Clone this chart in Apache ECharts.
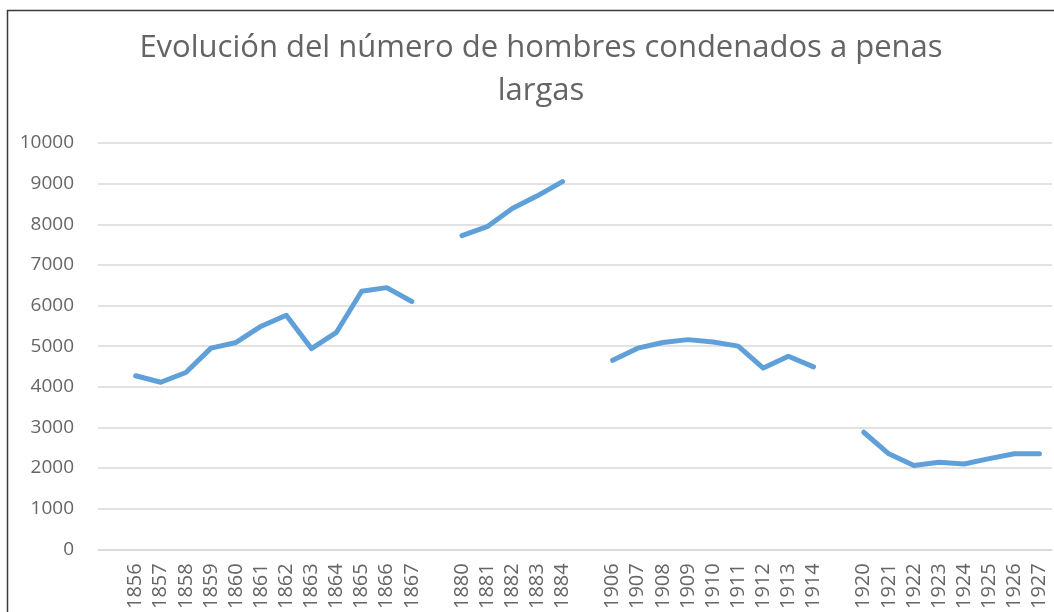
<!DOCTYPE html>
<html>
<head>
<meta charset="utf-8">
<script src="https://cdn.jsdelivr.net/npm/echarts@6/dist/echarts.min.js"></script>
<style>
  html, body { margin: 0; padding: 0; background: #ffffff; }
  #chart { width: 1054px; height: 612px; }
</style>
</head>
<body>
<div id="chart"></div>
<script>
// Years shown on the category axis; empty strings separate the four periods
const years = ['', '1856', '1857', '1858', '1859', '1860', '1861', '1862', '1863', '1864', '1865', '1866', '1867',
  '', '1880', '1881', '1882', '1883', '1884',
  '', '1906', '1907', '1908', '1909', '1910', '1911', '1912', '1913', '1914',
  '', '1920', '1921', '1922', '1923', '1924', '1925', '1926', '1927'];

// Men sentenced to long terms, per period
const period1 = [4270, 4110, 4350, 4950, 5090, 5490, 5760, 4940, 5340, 6350, 6440, 6100];
const period2 = [7720, 7940, 8390, 8700, 9050];
const period3 = [4650, 4950, 5090, 5160, 5100, 5000, 4460, 4750, 4490];
const period4 = [2880, 2350, 2060, 2140, 2100, 2230, 2350, 2350];

const yTicks = { min: 0, max: 10000, step: 1000 };

// Null entries break the line between periods
const values = [null].concat(period1, [null], period2, [null], period3, [null], period4);

const chart = echarts.init(document.getElementById('chart'), null, { renderer: 'canvas' });

const labelFont = '"Open Sans", "Liberation Sans", sans-serif';

chart.setOption({
  animation: false,
  backgroundColor: '#ffffff',
  title: {
    text: 'Evolución del número de hombres condenados a penas\nlargas',
    left: 536,
    top: 22,
    textAlign: 'center',
    textStyle: {
      fontFamily: labelFont,
      fontWeight: 'normal',
      fontSize: 31,
      lineHeight: 43,
      color: '#646464'
    }
  },
  graphic: [{
    type: 'rect',
    silent: true,
    shape: { x: 7.5, y: 10.5, width: 1200, height: 800 },
    style: { fill: 'none', stroke: '#3a3a3a', lineWidth: 1.5 }
  }],
  grid: { left: 98, right: 2, top: 143, bottom: 62, containLabel: false },
  xAxis: {
    type: 'category',
    data: years,
    boundaryGap: true,
    axisLine: { show: true, lineStyle: { color: '#d9d9d9', width: 1.5 } },
    axisTick: { show: false },
    axisLabel: {
      interval: 0,
      rotate: 90,
      margin: 14,
      fontFamily: labelFont,
      fontSize: 20,
      color: '#666666'
    }
  },
  yAxis: {
    type: 'value',
    min: yTicks.min,
    max: yTicks.max,
    interval: yTicks.step,
    axisLine: { show: false },
    axisTick: { show: false },
    splitLine: { lineStyle: { color: '#d9d9d9', width: 1.5 } },
    axisLabel: {
      margin: 24,
      fontFamily: labelFont,
      fontSize: 19,
      color: '#666666',
      formatter: (v) => String(v)
    }
  },
  series: [{
    type: 'line',
    data: values,
    connectNulls: false,
    showSymbol: false,
    symbol: 'none',
    lineStyle: { color: '#5fa0d8', width: 5, cap: 'round', join: 'round' },
    itemStyle: { color: '#5fa0d8' }
  }]
});
</script>
</body>
</html>
